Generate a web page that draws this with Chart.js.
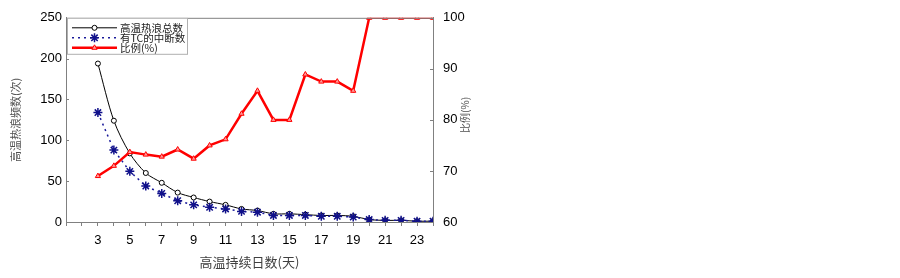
<!DOCTYPE html>
<html>
<head>
<meta charset="utf-8">
<script src="https://cdn.jsdelivr.net/npm/chart.js@4/dist/chart.umd.min.js"></script>
<style>
  body { margin: 0; background: #fff; }
</style>
</head>
<body>
<canvas id="chart" width="900" height="278"></canvas>
<script>
// Data
const days = [3, 4, 5, 6, 7, 8, 9, 10, 11, 12, 13, 14, 15, 16, 17, 18, 19, 20, 21, 22, 23, 24];
const totalWaves = [194, 124, 84, 60, 48, 36, 30, 25, 21, 16, 14, 10, 10, 9, 8, 8, 7, 3, 2, 2, 1, 1];
const tcBreaks = [134, 88, 62, 44, 35, 26, 21, 18, 16, 13, 12, 8, 8, 8, 7, 7, 6, 3, 2, 2, 1, 1];
const ratioPct = [69, 71, 73.7, 73.2, 72.8, 74.2, 72.4, 75, 76.2, 81.2, 85.7, 80, 80, 88.9, 87.5, 87.5, 85.7, 100, 100, 100, 100, 100];
const leftTicks = [0, 50, 100, 150, 200, 250];
const rightTicks = [60, 70, 80, 90, 100];

const seriesNames = ['高温热浪总数', '有TC的中断数', '比例(%)'];
const rightTitle = '比例(%)';
const tickFont = { family: 'Liberation Sans, Arial, sans-serif', size: 13 };
const cjk = 'Noto Sans CJK SC, sans-serif';
const axisGray = '#808080';

function toPoints(vals) {
    return days.map((d, i) => ({ x: d, y: vals[i] }));
}

// small marker shapes for the legend box
function drawMarker(ctx, style, x, y, r, stroke, fill, lw) {
    ctx.save();
    ctx.strokeStyle = stroke;
    ctx.fillStyle = fill;
    ctx.lineWidth = lw;
    ctx.setLineDash([]);
    ctx.beginPath();
    if (style === 'circle') {
        ctx.arc(x, y, r, 0, Math.PI * 2);
        ctx.fill();
        ctx.stroke();
    } else if (style === 'star') {
        for (let k = 0; k < 4; k++) {
            const a = k * Math.PI / 4;
            ctx.moveTo(x - r * Math.cos(a), y - r * Math.sin(a));
            ctx.lineTo(x + r * Math.cos(a), y + r * Math.sin(a));
        }
        ctx.stroke();
    } else if (style === 'triangle') {
        ctx.moveTo(x, y - r);
        ctx.lineTo(x + r * 0.87, y + r * 0.5);
        ctx.lineTo(x - r * 0.87, y + r * 0.5);
        ctx.closePath();
        ctx.fill();
        ctx.stroke();
    }
    ctx.restore();
}

// frame, inward y ticks, right axis title and the legend inside the plot area
const boxPlugin = {
    id: 'boxPlugin',
    afterDatasetsDraw(chart) {
        const ctx = chart.ctx;
        const a = chart.chartArea;
        ctx.save();
        ctx.strokeStyle = axisGray;
        ctx.lineWidth = 1;
        ctx.beginPath();
        ctx.moveTo(a.left, a.top + 0.5);
        ctx.lineTo(a.right, a.top + 0.5);
        ['y', 'y1'].forEach(id => {
            const sc = chart.scales[id];
            const dir = id === 'y' ? 1 : -1;
            const x0 = id === 'y' ? a.left : a.right;
            sc.ticks.forEach(t => {
                const py = Math.round(sc.getPixelForValue(t.value)) + 0.5;
                ctx.moveTo(x0, py);
                ctx.lineTo(x0 + dir * 3, py);
            });
        });
        ctx.stroke();

        // right axis title, reading bottom to top like the left one
        ctx.save();
        ctx.translate(a.right + 32, (a.top + a.bottom) / 2 - 5);
        ctx.rotate(-Math.PI / 2);
        ctx.font = '10px ' + cjk;
        ctx.fillStyle = '#505050';
        ctx.textAlign = 'center';
        ctx.textBaseline = 'middle';
        ctx.fillText(rightTitle, 0, 0);
        ctx.restore();

        // legend
        const lx = a.left + 1, ly = a.top, lw = 121, lh = 37;
        ctx.fillStyle = '#fff';
        ctx.fillRect(lx, ly, lw, lh);
        ctx.strokeStyle = '#b0b0b0';
        ctx.strokeRect(lx + 0.5, ly + 0.5, lw - 1, lh - 1);
        ctx.font = '10.5px ' + cjk;
        ctx.textBaseline = 'middle';
        chart.data.datasets.forEach((ds, i) => {
            const y = ly + 10 + i * 10;
            ctx.save();
            ctx.strokeStyle = ds.borderColor;
            ctx.lineWidth = ds.borderWidth;
            ctx.setLineDash(ds.borderDash || []);
            ctx.beginPath();
            ctx.moveTo(a.left + 6, y);
            ctx.lineTo(a.left + 51, y);
            ctx.stroke();
            ctx.restore();
            drawMarker(ctx, ds.pointStyle, a.left + 28.5, y, ds.pointRadius,
                ds.pointBorderColor, ds.pointBackgroundColor, ds.pointBorderWidth);
            ctx.fillStyle = '#222';
            ctx.fillText(ds.label, a.left + 54, y + 0.5);
        });
        ctx.restore();
    }
};

const ctx = document.getElementById('chart').getContext('2d');
const chart = new Chart(ctx, {
    type: 'line',
    data: {
        datasets: [
            {
                label: seriesNames[0],
                data: toPoints(totalWaves),
                yAxisID: 'y',
                borderColor: '#000',
                borderWidth: 1,
                pointStyle: 'circle',
                pointRadius: 2.5,
                pointBorderWidth: 1,
                pointBorderColor: '#000',
                pointBackgroundColor: '#fff',
                tension: 0.3,
                order: 2
            },
            {
                label: seriesNames[1],
                data: toPoints(tcBreaks),
                yAxisID: 'y',
                borderColor: '#1a1a9a',
                borderWidth: 1.5,
                borderDash: [2, 4],
                pointStyle: 'star',
                pointRadius: 4.5,
                pointBorderWidth: 1.5,
                pointBorderColor: '#10108a',
                pointBackgroundColor: '#10108a',
                tension: 0,
                order: 1
            },
            {
                label: seriesNames[2],
                data: toPoints(ratioPct),
                yAxisID: 'y1',
                borderColor: '#ff0000',
                borderWidth: 2.5,
                pointStyle: 'triangle',
                pointRadius: 3,
                pointBorderWidth: 1,
                pointBorderColor: '#ff0000',
                pointBackgroundColor: '#ff9a9a',
                tension: 0,
                order: 0
            }
        ]
    },
    options: {
        responsive: false,
        animation: false,
        devicePixelRatio: 1,
        layout: { padding: { left: 0, right: 423, top: 14, bottom: 0 } },
        plugins: {
            legend: { display: false },
            tooltip: { enabled: false }
        },
        scales: {
            x: {
                type: 'linear',
                min: 1,
                max: 24,
                grid: { drawOnChartArea: false, tickLength: 4, color: axisGray },
                border: { color: axisGray },
                ticks: {
                    stepSize: 1,
                    autoSkip: false,
                    maxRotation: 0,
                    padding: 7,
                    color: '#000',
                    font: tickFont,
                    callback: v => (v >= 3 && v % 2 === 1) ? v : ''
                },
                title: {
                    display: true,
                    text: '高温持续日数(天)',
                    color: '#404040',
                    font: { family: cjk, size: 13 },
                    padding: { top: 0, bottom: 8 }
                },
                afterFit: s => { s.height = 56; }
            },
            y: {
                position: 'left',
                min: 0,
                max: 250,
                afterBuildTicks: s => { s.ticks = leftTicks.map(v => ({ value: v })); },
                grid: { display: false, drawTicks: false },
                border: { color: axisGray },
                ticks: { padding: 4, color: '#000', font: tickFont },
                title: {
                    display: true,
                    text: '高温热浪频数(次)',
                    color: '#505050',
                    font: { family: cjk, size: 11 },
                    padding: { top: 9, bottom: 0 }
                },
                afterFit: s => { s.width = 66; }
            },
            y1: {
                position: 'right',
                min: 60,
                max: 100,
                afterBuildTicks: s => { s.ticks = rightTicks.map(v => ({ value: v })); },
                grid: { display: false, drawTicks: false },
                border: { color: axisGray },
                ticks: { padding: 10, color: '#000', font: tickFont },
                afterFit: s => { s.width = 44; }
            }
        }
    },
    plugins: [boxPlugin]
});
</script>
</body>
</html>
